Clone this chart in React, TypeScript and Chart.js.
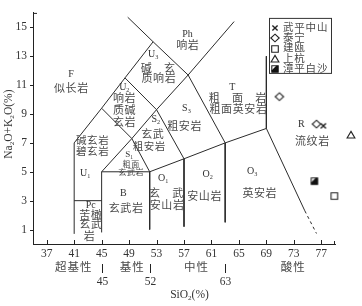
import React, { useEffect, useRef } from 'react';
import { Chart, registerables } from 'chart.js';

Chart.register(...registerables);

// ---------- data ----------
const xTickValues = [37, 41, 45, 49, 53, 57, 61, 65, 69, 73, 77];
const yTickValues = [1, 3, 5, 7, 9, 11, 13, 15];

const seriesNames = ['武平中山', '泰宁', '建瓯', '上杭', '漳平白沙'];
const wupingZhongshan = [{ x: 77.3, y: 8.18 }];
const taining = [{ x: 70.9, y: 10.2 }, { x: 76.3, y: 8.3 }];
const jianou = [{ x: 78.9, y: 3.32 }];
const shanghang = [{ x: 81.4, y: 7.54 }];
const zhangpingBaisha = [{ x: 76.0, y: 4.35 }];

// TAS field boundaries (SiO2, Na2O+K2O)
const boundaryFoidite = [[41, 0.7], [41, 7], [45, 9.4], [48.4, 11.5], [52.5, 14], [48.8, 15.7]];
const boundaryPicrobasalt = [[41, 3], [45, 3]];
const boundaryLower = [[45, 0.8], [45, 5], [52, 5], [57, 5.9], [63, 7], [69, 8]];
const boundaryMiddle = [[45, 5], [49.4, 7.3], [53, 9.3], [57.6, 11.7], [64.3, 15.4]];
const boundary52 = [[45, 9.4], [49.4, 7.3], [52, 5], [52, 1.0]];
const boundary57 = [[48.4, 11.5], [53, 9.3], [57, 5.9], [57, 1.2]];
const boundary63 = [[52.5, 14], [57.6, 11.7], [63, 7], [63, 1.5]];
const boundaryRhyolite = [[69, 13], [69, 8], [74.6, 2.3]];
const boundaryRhyoliteDashed = [[74.6, 2.3], [76.3, 0.73]];

const rockClasses = ['超基性', '基性', '中性', '酸性'];
const classBoundaries = [45, 52, 63];

// field labels: text, x, y, font size
const fieldLabels: [string, number, number, number][] = [
  ['Ph', 57.5, 14.48, 10],
  ['响岩', 57.5, 13.73, 11],
  ['F', 40.55, 11.73, 10],
  ['似长岩', 40.55, 10.7, 11],
  ['U_3', 52.5, 13.1, 10],
  ['碱　玄', 53.2, 12.1, 11],
  ['质响岩', 53.3, 11.45, 11],
  ['U_2', 48.3, 10.84, 10],
  ['响岩', 48.3, 10.0, 11],
  ['质碱', 48.3, 9.18, 11],
  ['玄岩', 48.3, 8.4, 11],
  ['S_2', 52.9, 8.63, 10],
  ['玄武', 52.4, 7.54, 11],
  ['粗安岩', 51.9, 6.67, 10.5],
  ['S_3', 57.35, 9.4, 10],
  ['粗安岩', 57.05, 8.1, 11],
  ['T', 64.05, 10.84, 10],
  ['粗　面　岩', 64.8, 10.04, 11],
  ['粗面英安岩', 64.9, 9.25, 11],
  ['R', 74.1, 8.25, 10],
  ['流纹岩', 75.66, 7.08, 11],
  ['碱玄岩', 43.65, 7.08, 10.5],
  ['碧玄岩', 43.65, 6.33, 10.5],
  ['U_1', 42.6, 4.92, 10],
  ['S_1', 49.0, 6.17, 9],
  ['粗面', 49.26, 5.49, 8],
  ['玄武岩', 49.26, 4.92, 8],
  ['Pc', 43.4, 2.64, 10],
  ['苦橄', 43.4, 1.96, 11],
  ['玄武', 43.4, 1.28, 11],
  ['岩', 43.2, 0.48, 11],
  ['B', 48.15, 3.51, 10],
  ['玄武岩', 48.53, 2.42, 11],
  ['O_1', 53.98, 4.54, 10],
  ['玄　武', 54.4, 3.44, 11],
  ['安山岩', 54.5, 2.64, 11],
  ['O_2', 60.45, 4.81, 10],
  ['安山岩', 59.96, 3.26, 11],
  ['O_3', 66.93, 5.03, 10],
  ['英安岩', 68.0, 3.44, 11],
];
const rockClassCenters = [40.85, 49.4, 58.75, 72.85];

// ---------- helpers ----------
const TXT = '#333';
const CJK_TXT = '#4a4a4a';
const LINE = '#2b2b2b';
const fontFam = '"Liberation Serif", "Noto Sans CJK SC", serif';

type Part = { t: string; sub: boolean };
function parseRich(s: string): Part[] {
  const parts: Part[] = [];
  let buf = '';
  for (let i = 0; i < s.length; i++) {
    if (s[i] === '_') {
      if (buf) parts.push({ t: buf, sub: false });
      buf = '';
      parts.push({ t: s[i + 1], sub: true });
      i++;
    } else buf += s[i];
  }
  if (buf) parts.push({ t: buf, sub: false });
  return parts;
}

function drawRich(ctx: CanvasRenderingContext2D, s: string, cx: number, cy: number, size: number, spacing = 0) {
  const parts = parseRich(s);
  const fontFor = (sub: boolean) => `${sub ? size * 0.62 : size}px ${fontFam}`;
  ctx.save();
  ctx.textBaseline = 'middle';
  ctx.textAlign = 'left';
  (ctx as any).letterSpacing = spacing + 'px';
  let total = 0;
  const widths = parts.map((p) => {
    ctx.font = fontFor(p.sub);
    const w = ctx.measureText(p.t).width;
    total += w;
    return w;
  });
  let x = cx - (total - spacing) / 2;
  parts.forEach((p, i) => {
    ctx.font = fontFor(p.sub);
    ctx.fillText(p.t, x, p.sub ? cy + size * 0.3 : cy);
    x += widths[i];
  });
  ctx.restore();
}

function makeMarker(kind: string): HTMLCanvasElement {
  const c = document.createElement('canvas');
  c.width = 12;
  c.height = 12;
  const g = c.getContext('2d')!;
  const m = 6;
  g.strokeStyle = '#222';
  g.fillStyle = '#111';
  g.lineWidth = 1.1;
  g.beginPath();
  if (kind === 'cross') {
    g.lineWidth = 1.4;
    g.moveTo(m - 2.6, m - 2.6); g.lineTo(m + 2.6, m + 2.6);
    g.moveTo(m + 2.6, m - 2.6); g.lineTo(m - 2.6, m + 2.6);
    g.stroke();
  } else if (kind === 'diamond') {
    g.moveTo(m, m - 3.8); g.lineTo(m + 4.2, m); g.lineTo(m, m + 3.8); g.lineTo(m - 4.2, m); g.closePath();
    g.stroke();
  } else if (kind === 'square') {
    g.rect(m - 3.3, m - 3.3, 6.6, 6.6);
    g.stroke();
  } else if (kind === 'triangle') {
    g.moveTo(m, m - 3.6); g.lineTo(m + 3.9, m + 3); g.lineTo(m - 3.9, m + 3); g.closePath();
    g.stroke();
  } else if (kind === 'half') {
    g.rect(m - 3.2, m - 3.2, 6.4, 6.4);
    g.stroke();
    g.beginPath();
    g.moveTo(m + 3.2, m - 3.2); g.lineTo(m + 3.2, m + 3.2); g.lineTo(m - 3.2, m + 3.2);
    g.lineTo(m - 3.2, m + 1.2); g.lineTo(m + 1.2, m - 3.2); g.closePath();
    g.fill();
  }
  return c;
}

const toXY = (arr: number[][]) => arr.map(([x, y]) => ({ x, y }));

export default function App() {
  const ref = useRef<HTMLCanvasElement | null>(null);

  useEffect(() => {
    if (!ref.current) return;
    const markers = ['cross', 'diamond', 'square', 'triangle', 'half'].map(makeMarker);
    const seriesData = [wupingZhongshan, taining, jianou, shanghang, zhangpingBaisha];

    const lineSets = [
      boundaryFoidite, boundaryPicrobasalt, boundaryLower, boundaryMiddle,
      boundary52, boundary57, boundary63, boundaryRhyolite,
    ].map((b) => ({
      data: toXY(b),
      showLine: true,
      pointRadius: 0,
      borderColor: LINE,
      borderWidth: 1,
      fill: false,
      tension: 0,
    }));
    lineSets.push({
      data: toXY(boundaryRhyoliteDashed),
      showLine: true,
      pointRadius: 0,
      borderColor: LINE,
      borderWidth: 1,
      fill: false,
      tension: 0,
      borderDash: [3, 3],
    } as any);

    const pointSets = seriesData.map((d, i) => ({
      label: seriesNames[i],
      data: d,
      showLine: false,
      pointStyle: markers[i],
      pointRadius: 5,
      clip: false,
    }));

    const overlay = {
      id: 'tasOverlay',
      afterDraw(chart: any) {
        const ctx: CanvasRenderingContext2D = chart.ctx;
        const xs = chart.scales.x;
        const ys = chart.scales.y;
        const ca = chart.chartArea;
        ctx.save();
        ctx.strokeStyle = '#222';
        ctx.lineWidth = 1;
        // y ticks outward
        yTickValues.forEach((v) => {
          const py = Math.round(ys.getPixelForValue(v)) + 0.5;
          ctx.beginPath();
          ctx.moveTo(ca.left - 3, py);
          ctx.lineTo(ca.left, py);
          ctx.stroke();
        });
        // top tick
        ctx.beginPath();
        ctx.moveTo(ca.left, ca.top + 0.5);
        ctx.lineTo(ca.left + 4, ca.top + 0.5);
        ctx.stroke();
        // x ticks inward
        xTickValues.forEach((v) => {
          const px = Math.round(xs.getPixelForValue(v)) + 0.5;
          ctx.beginPath();
          ctx.moveTo(px, ca.bottom);
          ctx.lineTo(px, ca.bottom - 4);
          ctx.stroke();
        });
        ctx.beginPath();
        ctx.moveTo(ca.right - 0.5, ca.bottom);
        ctx.lineTo(ca.right - 0.5, ca.bottom - 3);
        ctx.stroke();

        // sample points lying outside the plot area (Chart.js skips them)
        seriesData.forEach((d, i) => {
          d.forEach((p) => {
            const px = xs.getPixelForValue(p.x);
            const py = ys.getPixelForValue(p.y);
            if (px > ca.right + 3 || px < ca.left - 3 || py < ca.top - 3 || py > ca.bottom + 3) {
              ctx.drawImage(markers[i], Math.round(px) - 6, Math.round(py) - 6);
            }
          });
        });

        // field labels
        fieldLabels.forEach(([t, x, y, s]) => {
          const cjk = /[\u4e00-\u9fff]/.test(t);
          ctx.fillStyle = cjk ? CJK_TXT : TXT;
          drawRich(ctx, t, xs.getPixelForValue(x), ys.getPixelForValue(y), s, cjk ? 0.6 : 0);
        });

        // rock class row
        ctx.fillStyle = CJK_TXT;
        rockClasses.forEach((t, i) => {
          drawRich(ctx, t, xs.getPixelForValue(rockClassCenters[i]), ca.bottom + 24, 11.5, 1);
        });
        ctx.fillStyle = TXT;
        classBoundaries.forEach((v) => {
          const px = Math.round(xs.getPixelForValue(v)) + 0.5;
          ctx.beginPath();
          ctx.moveTo(px, ca.bottom + 20);
          ctx.lineTo(px, ca.bottom + 29);
          ctx.stroke();
          drawRich(ctx, String(v), px, ca.bottom + 38, 11.5);
        });

        // axis titles
        drawRich(ctx, 'SiO_2(%)', xs.getPixelForValue(57.8), ca.bottom + 51, 11.5);
        ctx.save();
        ctx.translate(9, ys.getPixelForValue(8.3));
        ctx.rotate(-Math.PI / 2);
        drawRich(ctx, 'Na_2O+K_2O(%)', 0, 0, 11.5);
        ctx.restore();

        // legend
        const lx = ca.right - 66;
        const ly = ca.top + 5;
        const lw = 62;
        const lh = 55;
        ctx.fillStyle = '#fff';
        ctx.fillRect(lx, ly, lw, lh);
        ctx.strokeStyle = '#333';
        ctx.strokeRect(lx + 0.5, ly + 0.5, lw, lh);
        ctx.fillStyle = CJK_TXT;
        seriesNames.forEach((n, i) => {
          const cy = ly + 10 + i * 10.3;
          ctx.drawImage(markers[i], lx, Math.round(cy) - 6);
          ctx.save();
          ctx.font = `10.5px ${fontFam}`;
          (ctx as any).letterSpacing = '0.8px';
          ctx.textAlign = 'left';
          ctx.textBaseline = 'middle';
          ctx.fillText(n, lx + 14, cy);
          ctx.restore();
        });
        ctx.restore();
      },
    };

    const chart = new Chart(ref.current, {
      type: 'scatter',
      data: { datasets: [...lineSets, ...pointSets] as any },
      options: {
        animation: false,
        responsive: false,
        maintainAspectRatio: false,
        layout: { padding: { top: 9, right: 27, left: 0, bottom: 0 } },
        plugins: { legend: { display: false }, tooltip: { enabled: false } },
        scales: {
          x: {
            type: 'linear',
            min: 35,
            max: 79,
            afterBuildTicks: (s: any) => { s.ticks = xTickValues.map((v) => ({ value: v })); },
            afterFit: (s: any) => { s.height = 62; },
            grid: { display: false, drawTicks: false },
            border: { display: true, color: '#222', width: 1 },
            ticks: {
              autoSkip: false,
              maxRotation: 0,
              padding: 3,
              color: TXT,
              font: { family: fontFam, size: 11.5 },
            },
          },
          y: {
            type: 'linear',
            min: 0,
            max: 16,
            afterBuildTicks: (s: any) => { s.ticks = yTickValues.map((v) => ({ value: v })); },
            afterFit: (s: any) => { s.width = 33; },
            grid: { display: false, drawTicks: false },
            border: { display: true, color: '#222', width: 1 },
            ticks: {
              autoSkip: false,
              padding: 6,
              color: TXT,
              font: { family: fontFam, size: 11.5 },
            },
          },
        },
      },
      plugins: [overlay as any],
    });
    return () => chart.destroy();
  }, []);

  return (
    <div style={{ position: 'fixed', left: 0, top: 0, width: 362, height: 306, background: '#fff' }}>
      <canvas ref={ref} width={362} height={306} style={{ width: 362, height: 306, display: 'block' }} />
    </div>
  );
}
